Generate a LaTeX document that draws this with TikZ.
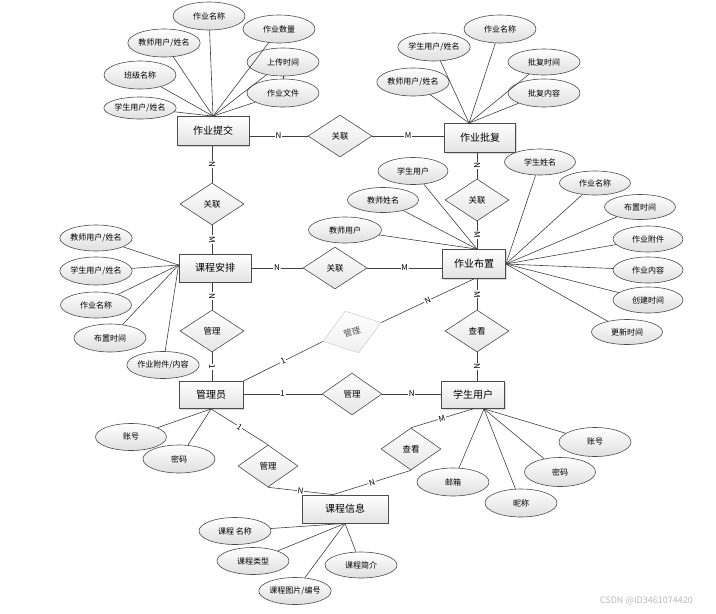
\documentclass[tikz,border=0pt]{standalone}
\usepackage{fontspec}
\setmainfont{Noto Sans CJK SC}
\usetikzlibrary{shapes.geometric,shadows}
\begin{document}
\begin{tikzpicture}[x=1pt,y=-1pt,
 ent/.style={draw=gray!60!black, line width=0.8pt, top color=white, bottom color=gray!22, minimum width=72pt, minimum height=29pt, inner sep=0pt, font=\fontsize{10}{12}\selectfont, drop shadow={shadow xshift=1.2pt, shadow yshift=-1.2pt, opacity=0.3}},
 rel/.style={diamond, draw=gray!60!black, line width=0.6pt, top color=white, bottom color=gray!20, minimum width=64pt, minimum height=42pt, inner sep=0pt, font=\fontsize{8.5}{10}\selectfont},
 faint/.style={rel, draw=gray!35, top color=white, bottom color=gray!12, text=gray!60!black, minimum width=61pt, minimum height=44pt, rotate=18},
 attr/.style={ellipse, draw=gray!60!black, line width=0.6pt, top color=white, bottom color=gray!25, minimum width=72pt, minimum height=28pt, inner sep=0pt, font=\fontsize{8}{10}\selectfont},
 ln/.style={draw=gray!50!black, line width=0.6pt},
 lbl/.style={fill=white, inner sep=0.8pt, font=\fontsize{8}{9}\selectfont, sloped}
]
\useasboundingbox (0,0) rectangle (716,614);
% entities
\node[ent] (zytj) at (213,131) {作业提交};
\node[ent, minimum width=71pt] (zypf) at (480,138) {作业批复};
\node[ent, minimum height=28pt] (kcap) at (215,268) {课程安排};
\node[ent, minimum width=63pt] (zybz) at (474,264) {作业布置};
\node[ent, minimum width=64pt, minimum height=27pt] (gly) at (211,395) {管理员};
\node[ent, minimum width=63pt, minimum height=27pt] (xsyh) at (473,395) {学生用户};
\node[ent, minimum width=86pt, minimum height=28pt] (kcxx) at (345,509) {课程信息};
% relations
\node[rel] (r1) at (340,136) {关联};
\node[rel] (r2) at (212,204) {关联};
\node[rel] (r3) at (477,200) {关联};
\node[rel] (r4) at (335,268) {关联};
\node[rel] (r5) at (212,331) {管理};
\node[faint] (r6) at (352,332) {管理};
\node[rel, minimum width=60pt] (r7) at (352,394) {管理};
\node[rel] (r8) at (477,331) {查看};
\node[rel, minimum width=60pt] (r9) at (268,466) {管理};
\node[rel, minimum width=60pt] (r10) at (411,449) {查看};
% relation connectors
\draw[ln] (zytj.east |- r1) -- node[lbl] {N} (r1.west);
\draw[ln] (r1.east) -- node[lbl] {M} (r1 -| zypf.west);
\draw[ln] (zytj.south -| r2) -- node[lbl] {N} (r2.north);
\draw[ln] (r2.south) -- node[lbl] {M} (r2 |- kcap.north);
\draw[ln] (zypf.south -| r3) -- node[lbl] {N} (r3.north);
\draw[ln] (r3.south) -- node[lbl] {M} (r3 |- zybz.north);
\draw[ln] (kcap.east |- r4) -- node[lbl] {N} (r4.west);
\draw[ln] (r4.east) -- node[lbl] {M} (r4 -| zybz.west);
\draw[ln] (kcap.south -| r5) -- node[lbl] {N} (r5.north);
\draw[ln] (r5.south) -- node[lbl] {1} (r5 |- gly.north);
\draw[ln] (gly.north east) -- node[lbl] {1} (r6.west);
\draw[ln] (r6.east) -- node[lbl] {N} (zybz.south);
\draw[ln] (gly.east |- r7) -- node[lbl] {1} (r7.west);
\draw[ln] (r7.east) -- node[lbl] {N} (r7 -| xsyh.west);
\draw[ln] (zybz.south -| r8) -- node[lbl] {M} (r8.north);
\draw[ln] (r8.south) -- node[lbl] {N} (r8 |- xsyh.north);
\coordinate (kt) at ([xshift=-12pt]kcxx.north);
\draw[ln] (gly.south) -- node[lbl] {1} (r9.north);
\draw[ln] (r9.south) -- node[lbl] {N} (kt);
\draw[ln] (xsyh.south) -- node[lbl] {M} (r10.north);
\draw[ln] (r10.south) -- node[lbl] {N} (kt);
% attributes of 作业提交
\node[attr] (a1) at (209,16) {作业名称};
\node[attr] (a2) at (279,29) {作业数量};
\node[attr] (a3) at (164,43) {教师用户/姓名};
\node[attr] (a4) at (283,62) {上传时间};
\node[attr] (a5) at (140,75) {班级名称};
\node[attr] (a6) at (283,93) {作业文件};
\node[attr, minimum height=22pt] (a7) at (140,108) {学生用户/姓名};
\foreach \a in {a1,a2,a3,a4,a5,a6,a7} \draw[ln] (\a) -- (zytj.north);
\draw[ln] (a4.south) -- (a6.north);
% attributes of 作业批复
\coordinate (pfc) at ([xshift=-11pt]zypf.north);
\node[attr] (b1) at (500,29) {作业名称};
\node[attr] (b2) at (434,47) {学生用户/姓名};
\node[attr, minimum height=26pt] (b3) at (544,62) {批复时间};
\node[attr] (b4) at (413,82) {教师用户/姓名};
\node[attr] (b5) at (544,93) {批复内容};
\foreach \b in {b1,b2,b3,b4,b5} \draw[ln] (\b) -- (pfc);
% attributes of 课程安排
\coordinate (apc) at ([yshift=3pt]kcap.west);
\node[attr, minimum height=26pt] (c1) at (96,238) {教师用户/姓名};
\node[attr] (c2) at (96,271) {学生用户/姓名};
\node[attr, minimum width=71pt, minimum height=26pt] (c3) at (96,305) {作业名称};
\node[attr] (c4) at (110,338) {布置时间};
\node[attr, minimum width=71pt, minimum height=27pt] (c5) at (163,365) {作业附件/内容};
\foreach \c in {c1,c2,c3,c4,c5} \draw[ln] (\c) -- (apc);
% attributes of 作业布置
\coordinate (bzl) at ([xshift=3pt]zybz.north);
\node[attr, minimum width=70pt, minimum height=27pt] (d1) at (413,171) {学生用户};
\node[attr, minimum width=71pt, minimum height=26pt] (d2) at (540,162) {学生姓名};
\node[attr, minimum width=71pt, minimum height=25pt] (d3) at (383,200) {教师姓名};
\node[attr, minimum width=71pt, minimum height=24pt] (d4) at (595,183) {作业名称};
\node[attr, minimum width=73pt, minimum height=26pt] (d5) at (345,230) {教师用户};
\node[attr, minimum width=71pt, minimum height=25pt] (d6) at (640,207) {布置时间};
\node[attr, minimum width=70pt, minimum height=26pt] (d7) at (648,239) {作业附件};
\node[attr, minimum width=70pt, minimum height=26pt] (d8) at (648,270) {作业内容};
\node[attr, minimum width=70pt, minimum height=26pt] (d9) at (648,300) {创建时间};
\node[attr, minimum width=71pt, minimum height=25pt] (d10) at (627,332) {更新时间};
\foreach \d in {d1,d3,d5} \draw[ln] (\d) -- (bzl);
\foreach \d in {d2,d4,d6,d7,d8,d9,d10} \draw[ln] (\d) -- (zybz.east);
% attributes of 管理员
\node[attr, minimum width=71pt, minimum height=27pt] (e1) at (131,437) {账号};
\node[attr, minimum width=72pt, minimum height=28pt] (e2) at (179,459) {密码};
\foreach \e in {e1,e2} \draw[ln] (\e) -- (gly.south);
% attributes of 学生用户
\coordinate (xsc) at ([xshift=11pt]xsyh.south);
\node[attr, minimum height=29pt] (f1) at (595,442) {账号};
\node[attr, minimum width=71pt, minimum height=29pt] (f2) at (560,472) {密码};
\node[attr] (f3) at (453,482) {邮箱};
\node[attr] (f4) at (521,503) {昵称};
\foreach \f in {f1,f2,f3,f4} \draw[ln] (\f) -- (xsc);
% attributes of 课程信息
\node[attr, minimum height=27pt] (g1) at (235,531) {课程 名称};
\node[attr, minimum height=27pt] (g2) at (253,561) {课程类型};
\node[attr, minimum height=26pt] (g3) at (361,565) {课程简介};
\node[attr, minimum width=71pt, minimum height=27pt] (g4) at (295,591) {课程图片/编号};
\foreach \g in {g1,g2,g3,g4} \draw[ln] (\g) -- (kcxx.south);
% watermark
\node[text=gray!55, font=\fontsize{9}{10}\selectfont, anchor=east, inner sep=0pt] (wm) at (693,601) {CSDN @ID3461074420};
\end{tikzpicture}
\end{document}
